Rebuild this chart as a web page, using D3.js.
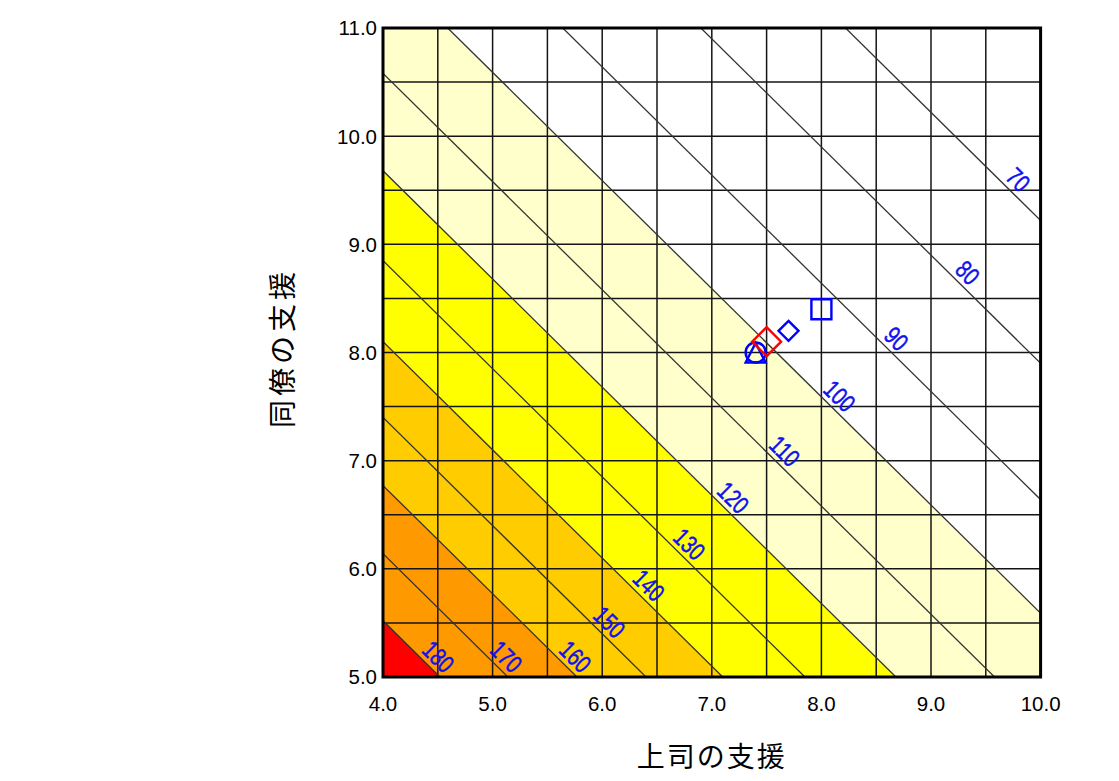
<!DOCTYPE html>
<html>
<head>
<meta charset="utf-8">
<script src="https://cdn.jsdelivr.net/npm/d3@7"></script>
<style>
  body { margin: 0; background: #fff; }
  svg { display: block; }
</style>
</head>
<body>
<svg id="chart" width="1119" height="781"></svg>
<script>
// axis ticks (labels every 1.0, grid every 0.5)
const x_ticks = [4, 5, 6, 7, 8, 9, 10];
const y_ticks = [5, 6, 7, 8, 9, 10, 11];
const x_grid = [4, 4.5, 5, 5.5, 6, 6.5, 7, 7.5, 8, 8.5, 9, 9.5, 10];
const y_grid = [5, 5.5, 6, 6.5, 7, 7.5, 8, 8.5, 9, 9.5, 10, 10.5, 11];

// contour levels: each line is 上司 + 同僚 = level_sum
const risk_levels = [180, 170, 160, 150, 140, 130, 120, 110, 100, 90, 80, 70];
const level_sums = [9.52, 10.14, 10.77, 11.4, 12.1, 12.85, 13.68, 14.58, 15.59, 16.64, 17.9, 19.22];
const label_x = [4.42, 5.04, 5.67, 5.98, 6.34, 6.71, 7.11, 7.58, 8.08, 8.6, 9.25, 9.71];

// coloured bands: area at or above a level
const band_levels = [100, 120, 140, 160, 180];
const band_colors = ["#ffffcc", "#ffff00", "#ffcc00", "#ff9900", "#ff0000"];

// plotted groups
const point_x = [7.4, 7.4, 7.5, 7.7, 8.0];
const point_y = [8.0, 8.0, 8.1, 8.2, 8.4];
const point_kind = ["circle", "triangle", "big_diamond", "diamond", "square"];

const x_title = "上司の支援";
const y_title = "同僚の支援";

const plot_left = 383;
const plot_right = 1040.6;
const plot_top = 28;
const plot_bottom = 677;

const tick_font = "'Liberation Sans', Arial, sans-serif";
const cjk_font = "'Noto Sans CJK JP', 'Noto Sans', sans-serif";

const svg = d3.select("#chart");

const x = d3.scaleLinear().domain([4, 10]).range([plot_left, plot_right]);
const y = d3.scaleLinear().domain([5, 11]).range([plot_bottom, plot_top]);

const sum_of = (level) => level_sums[risk_levels.indexOf(level)];

svg
  .append("clipPath")
  .attr("id", "plot-clip")
  .append("rect")
  .attr("x", plot_left)
  .attr("y", plot_top)
  .attr("width", plot_right - plot_left)
  .attr("height", plot_bottom - plot_top);

const plot = svg.append("g").attr("clip-path", "url(#plot-clip)");

// bands, widest first so the higher ones paint over it
const band_area = (s) => {
  const lo = 2;
  const hi = 12;
  return [
    [x(lo), y(s - lo)],
    [x(hi), y(s - hi)],
    [x(lo), y(s - hi)],
  ];
};

plot
  .append("g")
  .selectAll("polygon")
  .data(band_levels)
  .join("polygon")
  .attr("points", (d) => band_area(sum_of(d)).map((p) => p.join(",")).join(" "))
  .attr("fill", (d, i) => band_colors[i]);

// grid
const grid = plot.append("g").attr("stroke", "#141414").attr("stroke-width", 1.5);
grid
  .selectAll("line.v")
  .data(x_grid)
  .join("line")
  .attr("class", "v")
  .attr("x1", (d) => x(d))
  .attr("x2", (d) => x(d))
  .attr("y1", plot_top)
  .attr("y2", plot_bottom);
grid
  .selectAll("line.h")
  .data(y_grid)
  .join("line")
  .attr("class", "h")
  .attr("y1", (d) => y(d))
  .attr("y2", (d) => y(d))
  .attr("x1", plot_left)
  .attr("x2", plot_right);

// contour lines
plot
  .append("g")
  .attr("stroke", "#333")
  .attr("stroke-width", 1.3)
  .selectAll("line")
  .data(level_sums)
  .join("line")
  .attr("x1", (s) => x(3))
  .attr("y1", (s) => y(s - 3))
  .attr("x2", (s) => x(11))
  .attr("y2", (s) => y(s - 11));

// contour labels, sitting just above each line (narrow digits)
const line_angle = (Math.atan2(y(0) - y(1), x(1) - x(0)) * 180) / Math.PI;

plot
  .append("g")
  .selectAll("text")
  .data(risk_levels)
  .join("text")
  .attr("transform", (d, i) => {
    const lx = label_x[i];
    return `translate(${x(lx)},${y(level_sums[i] - lx)}) rotate(${line_angle}) scale(0.78,1)`;
  })
  .attr("y", -4.5)
  .attr("text-anchor", "middle")
  .attr("font-family", tick_font)
  .attr("font-size", 25)
  .attr("fill", "#1010f0")
  .attr("stroke", "#1010f0")
  .attr("stroke-width", 0.5)
  .text((d) => d);

// markers
const marker_path = (kind, cx, cy) => {
  const p = d3.path();
  if (kind === "circle") {
    p.moveTo(cx + 10, cy);
    p.arc(cx, cy, 10, 0, 2 * Math.PI);
  } else if (kind === "triangle") {
    p.moveTo(cx, cy - 9.5);
    p.lineTo(cx + 10, cy + 10);
    p.lineTo(cx - 10, cy + 10);
    p.closePath();
  } else if (kind === "square") {
    p.rect(cx - 10, cy - 10, 20, 20);
  } else {
    const r = kind === "big_diamond" ? 14.5 : 10;
    p.moveTo(cx, cy - r);
    p.lineTo(cx + r, cy);
    p.lineTo(cx, cy + r);
    p.lineTo(cx - r, cy);
    p.closePath();
  }
  return p.toString();
};

svg
  .append("g")
  .selectAll("path")
  .data(point_kind)
  .join("path")
  .attr("d", (d, i) => marker_path(d, x(point_x[i]), y(point_y[i])))
  .attr("fill", "none")
  .attr("stroke", (d) => (d === "big_diamond" ? "#ff0000" : "#0000ff"))
  .attr("stroke-width", 2.4);

// frame
svg
  .append("rect")
  .attr("x", plot_left)
  .attr("y", plot_top)
  .attr("width", plot_right - plot_left)
  .attr("height", plot_bottom - plot_top)
  .attr("fill", "none")
  .attr("stroke", "#000")
  .attr("stroke-width", 3);

// tick labels
svg
  .append("g")
  .selectAll("text")
  .data(x_ticks)
  .join("text")
  .attr("x", (d) => x(d))
  .attr("y", 711)
  .attr("text-anchor", "middle")
  .attr("font-family", tick_font)
  .attr("font-size", 20.5)
  .attr("fill", "#000")
  .text((d) => d3.format(".1f")(d));

svg
  .append("g")
  .selectAll("text")
  .data(y_ticks)
  .join("text")
  .attr("x", 377)
  .attr("y", (d) => y(d))
  .attr("dy", "0.36em")
  .attr("text-anchor", "end")
  .attr("font-family", tick_font)
  .attr("font-size", 20.5)
  .attr("fill", "#000")
  .text((d) => d3.format(".1f")(d));

// axis titles
svg
  .append("text")
  .attr("x", (plot_left + plot_right) / 2)
  .attr("y", 757)
  .attr("dy", "0.36em")
  .attr("text-anchor", "middle")
  .attr("font-family", cjk_font)
  .attr("font-size", 28)
  .attr("letter-spacing", 2)
  .attr("fill", "#000")
  .text(x_title);

svg
  .append("text")
  .attr("transform", "translate(283,348) rotate(-90)")
  .attr("dy", "0.36em")
  .attr("text-anchor", "middle")
  .attr("font-family", cjk_font)
  .attr("font-size", 28)
  .attr("letter-spacing", 4)
  .attr("fill", "#000")
  .text(y_title);
</script>
</body>
</html>
